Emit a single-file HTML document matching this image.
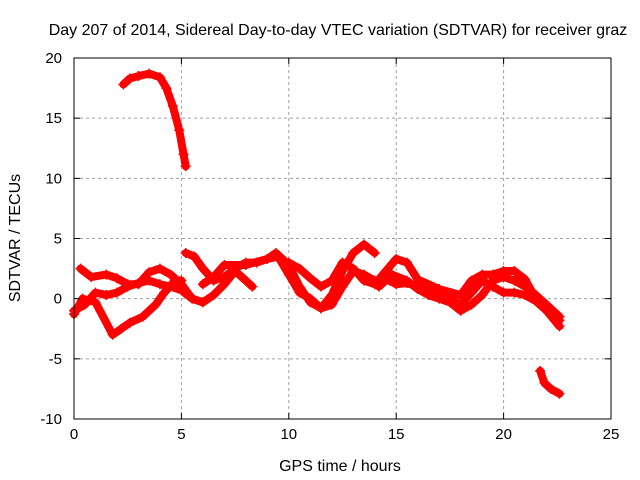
<!DOCTYPE html>
<html><head><meta charset="utf-8"><style>
body{margin:0;background:#fff}
svg{display:block;font-family:"Liberation Sans",sans-serif}
</style></head><body>
<svg id="chart" width="640" height="480" viewBox="0 0 640 480">
<rect width="640" height="480" fill="#fff"/>
<g id="grid"></g>
<g id="series"></g>
<rect x="74" y="58" width="537" height="361" fill="none" stroke="#000" stroke-width="1"/>
<g id="ticks"></g>
<text x="338" y="35" text-anchor="middle" font-size="16">Day 207 of 2014, Sidereal Day-to-day VTEC variation (SDTVAR) for receiver graz</text>
<text x="340" y="471" text-anchor="middle" font-size="16">GPS time / hours</text>
<text transform="translate(20,238) rotate(-90)" text-anchor="middle" font-size="16">SDTVAR / TECUs</text>
</svg>
<script>
const xTicks=[0,5,10,15,20,25];
const yTicks=[-10,-5,0,5,10,15,20];
const arcX=[2.3,2.6,3,3.5,4,4.3,4.6,4.9,5.1,5.2];
const arcY=[17.8,18.3,18.5,18.7,18.4,17.5,16,14,12,11];
const tailX=[21.7,21.9,22.2,22.6];
const tailY=[-6,-7,-7.5,-7.9];
const s1X=[0,0.5,1,1.5,2,2.5,3,3.5,4,4.5,5,5.5,6,6.5,7,7.5,8,8.3];
const s1Y=[-1,-0.5,0.5,0.3,0.5,1,1.3,1.5,1.2,1,0.7,0,-0.3,0.3,1.2,2.3,1.5,1];
const s2X=[0.3,0.8,1.5,2,2.5,3,3.5,4,4.5,5,5.5,6];
const s2Y=[2.5,1.8,2,1.7,1.2,1.2,2.2,2.5,2,1.2,0,-0.3];
const s3X=[0,0.4,1,1.8,2.2,2.6,3.2,3.8,4.2,4.7,5];
const s3Y=[-1.3,0,-0.3,-3,-2.5,-2,-1.5,-0.5,0.5,1.5,1.5];
const s4X=[5.2,5.6,6,6.5,7,7.5,8,8.5,9,9.4,10,10.5,11,11.5,12,12.5,13,13.5,14];
const s4Y=[3.8,3.5,2.5,1.5,1.8,2.5,3,3,3.3,3.8,2.8,1,-0.3,-0.8,0.3,2.3,3.8,4.5,3.8];
const s5X=[6,6.5,7,8,9,9.5,10,10.5,11,11.5,12,12.5,13,13.5,14,14.7,15,15.5,16,17,17.5,18,18.5,19,19.5,20,20.5,21,21.5,22,22.6];
const s5Y=[1.2,1.8,2.8,2.8,3.3,3.5,2,0.5,0,-0.8,-0.5,1,2.3,2,1.5,1.5,1.2,1.3,1,0.5,0,-0.5,0.5,1.5,1,0.5,0.5,0.3,-0.2,-1,-2.3];
const s6X=[10,10.5,11,11.5,12,12.5,13,13.5,14,15,15.5,16,17,18,18.5,19,19.5,20,20.5,21,21.5,22,22.6];
const s6Y=[3,2.5,1.7,1,1.5,3,2.5,1.5,1.2,3.3,3,1.6,0.8,0.3,1.5,2,2,2.3,2.3,1.6,0,-1,-1.8];
const s7X=[14.2,14.8,15.5,16,16.5,17,17.5,18,18.5,19,19.5,20,20.5,21,21.5,22,22.6];
const s7Y=[1,2,1.5,0.8,0.3,0,-0.3,-1,-0.5,0.3,1.5,1.8,1.5,1,0.3,-0.5,-1.5];

const X0=74,X1=611,Y0=419,Y1=58;
const sx=v=>X0+(v-0)/(25-0)*(X1-X0);
const sy=v=>Y0-(v+10)/(20+10)*(Y0-Y1);
const NS="http://www.w3.org/2000/svg";
const grid=document.getElementById('grid'),ticks=document.getElementById('ticks'),ser=document.getElementById('series');
function mk(t,a,p){const e=document.createElementNS(NS,t);for(const k in a)e.setAttribute(k,a[k]);p.appendChild(e);return e;}
xTicks.forEach(v=>{const x=sx(v);
 if(v>0&&v<25){const g=mk('line',{x1:x,x2:x,y1:Y1,y2:Y0,stroke:'#a0a0a0','stroke-dasharray':'3,3'},grid);
 
 }
 mk('line',{x1:x,x2:x,y1:Y0,y2:Y0-6,stroke:'#000'},ticks);mk('line',{x1:x,x2:x,y1:Y1,y2:Y1+6,stroke:'#000'},ticks);
 const t=mk('text',{x:x,y:Y0+20,'text-anchor':'middle','font-size':15},ticks);t.textContent=v;
 
 });
yTicks.forEach(v=>{const y=sy(v);
 if(v>-10&&v<20){const g=mk('line',{x1:X0,x2:X1,y1:y,y2:y,stroke:'#a0a0a0','stroke-dasharray':'3,3'},grid);
 
 }
 mk('line',{x1:X0,x2:X0+6,y1:y,y2:y,stroke:'#000'},ticks);mk('line',{x1:X1,x2:X1-6,y1:y,y2:y,stroke:'#000'},ticks);
 const t=mk('text',{x:X0-12,y:y+5,'text-anchor':'end','font-size':15},ticks);t.textContent=v;
 
 });
const all=[[arcX,arcY,'arc'],[tailX,tailY,'tail'],[s1X,s1Y,'s1'],[s2X,s2Y,'s2'],[s3X,s3Y,'s3'],[s4X,s4Y,'s4'],[s5X,s5Y,'s5'],[s6X,s6Y,'s6'],[s7X,s7Y,'s7']];
all.forEach(([xs,ys,n])=>{
 const pts=xs.map((v,i)=>sx(v)+','+sy(ys[i])).join(' ');
 const p=mk('polyline',{points:pts,fill:'none',stroke:'#ff0000','stroke-width':8,'stroke-linejoin':'round','stroke-linecap':'round'},ser);
 
 
 xs.forEach((v,i)=>{const x=sx(v),y=sy(ys[i]);
  const m=mk('path',{d:`M${x-5},${y}H${x+5}M${x},${y-5}V${y+5}`,stroke:'#ff0000','stroke-width':1.5},ser);
  
  });
});
</script>
</body></html>
